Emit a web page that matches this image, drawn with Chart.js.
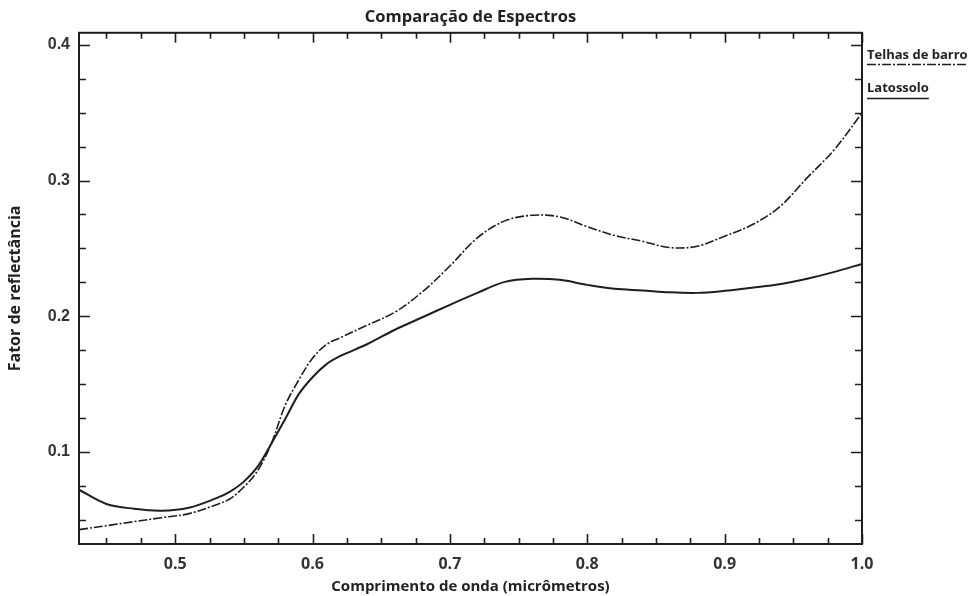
<!DOCTYPE html>
<html>
<head>
<meta charset="utf-8">
<script src="https://cdn.jsdelivr.net/npm/chart.js@4/dist/chart.umd.min.js"></script>
<style>
  html, body { margin: 0; padding: 0; background: #fff; }
  #wrap { width: 970px; height: 596px; }
</style>
</head>
<body>
<div id="wrap"><canvas id="c" width="970" height="596"></canvas></div>
<script>
// ---- data ----
const wavelengths = [0.43, 0.45, 0.47, 0.49, 0.51, 0.53, 0.54, 0.55, 0.56, 0.57, 0.58, 0.59, 0.60, 0.61, 0.62, 0.64, 0.66, 0.68, 0.70, 0.72, 0.74, 0.76, 0.78, 0.80, 0.82, 0.84, 0.86, 0.88, 0.90, 0.92, 0.94, 0.96, 0.98, 1.00];
const telhasDeBarro = [0.0426, 0.0455, 0.0485, 0.0514, 0.0544, 0.061, 0.0654, 0.074, 0.086, 0.106, 0.134, 0.153, 0.169, 0.179, 0.184, 0.1935, 0.203, 0.218, 0.237, 0.2578, 0.2703, 0.2744, 0.2732, 0.266, 0.2595, 0.2553, 0.2506, 0.2516, 0.259, 0.2674, 0.2806, 0.302, 0.323, 0.350];
const latossolo = [0.072, 0.0615, 0.058, 0.0566, 0.0588, 0.0658, 0.0706, 0.078, 0.089, 0.106, 0.124, 0.1425, 0.155, 0.1645, 0.1705, 0.1795, 0.190, 0.1992, 0.2084, 0.2172, 0.2253, 0.2276, 0.2268, 0.2231, 0.2202, 0.219, 0.2176, 0.2172, 0.2187, 0.221, 0.2235, 0.2276, 0.2327, 0.2386];
const seriesNames = ['Telhas de barro', 'Latossolo'];
const xTickLabels = [0.5, 0.6, 0.7, 0.8, 0.9, 1.0];
const yTickLabels = [0.1, 0.2, 0.3, 0.4];
const xMinorStep = 0.025;
const yMinorStep = 0.025;

const INK = '#1e1e1e';
const DASHDOT = [9, 2, 2, 2];

function pts(ys) { return wavelengths.map((w, i) => ({ x: w, y: ys[i] })); }

const frameTicks = {
  id: 'frameTicks',
  afterDraw(chart) {
    const { ctx, chartArea: a, scales: { x, y } } = chart;
    ctx.save();
    ctx.strokeStyle = INK;
    ctx.lineWidth = 1.6;
    ctx.setLineDash([]);
    const isMajor = v => Math.abs(v * 10 - Math.round(v * 10)) < 1e-6;
    for (let k = Math.ceil(x.min / xMinorStep); k * xMinorStep <= x.max + 1e-9; k++) {
      const v = k * xMinorStep;
      const px = Math.round(x.getPixelForValue(v)) + 0.5;
      const len = isMajor(v) ? 10 : 6;
      ctx.beginPath();
      ctx.moveTo(px, a.bottom); ctx.lineTo(px, a.bottom - len);
      ctx.moveTo(px, a.top); ctx.lineTo(px, a.top + len);
      ctx.stroke();
    }
    for (let k = Math.ceil(y.min / yMinorStep); k * yMinorStep <= y.max + 1e-9; k++) {
      const v = k * yMinorStep;
      const py = Math.round(y.getPixelForValue(v)) + 0.5;
      const len = isMajor(v) ? 11 : 7;
      ctx.beginPath();
      ctx.moveTo(a.left, py); ctx.lineTo(a.left + len, py);
      ctx.moveTo(a.right, py); ctx.lineTo(a.right - len, py);
      ctx.stroke();
    }
    ctx.lineWidth = 2;
    ctx.strokeRect(a.left, a.top, a.right - a.left, a.bottom - a.top);

    // legend at the right: name with a line sample underneath
    ctx.font = 'bold 13px "Open Sans"';
    ctx.fillStyle = '#222';
    ctx.textBaseline = 'alphabetic';
    ctx.textAlign = 'left';
    const lx = a.right + 5;
    const items = [
      { name: seriesNames[0], base: 59, lineY: 64, dash: DASHDOT },
      { name: seriesNames[1], base: 92, lineY: 98, dash: [] }
    ];
    items.forEach(it => {
      ctx.fillText(it.name, lx, it.base);
      const w = ctx.measureText(it.name).width;
      ctx.beginPath();
      ctx.setLineDash(it.dash);
      ctx.lineWidth = 1.3;
      ctx.moveTo(lx, it.lineY + 0.5);
      ctx.lineTo(lx + w, it.lineY + 0.5);
      ctx.stroke();
    });
    ctx.restore();
  }
};

new Chart(document.getElementById('c'), {
  type: 'line',
  data: {
    datasets: [
      {
        label: seriesNames[0],
        data: pts(telhasDeBarro),
        borderColor: INK,
        borderWidth: 1.6,
        borderDash: DASHDOT,
        pointRadius: 0,
        fill: false,
        tension: 0.35
      },
      {
        label: seriesNames[1],
        data: pts(latossolo),
        borderColor: INK,
        borderWidth: 2,
        pointRadius: 0,
        fill: false,
        tension: 0.35
      }
    ]
  },
  options: {
    responsive: false,
    animation: false,
    events: [],
    layout: { padding: { left: 0, right: 108, top: 0, bottom: 0 } },
    plugins: {
      legend: { display: false },
      tooltip: { enabled: false },
      title: {
        display: true,
        fullSize: false,
        text: 'Comparação de Espectros',
        color: '#222',
        font: { family: '"Open Sans"', size: 16.5, weight: 'bold' },
        padding: { top: 7, bottom: 6 }
      }
    },
    scales: {
      x: {
        type: 'linear',
        min: 0.43,
        max: 1.0,
        afterBuildTicks: s => { s.ticks = xTickLabels.map(v => ({ value: v })); },
        afterFit: s => { s.height = 52; },
        ticks: {
          callback: v => v.toFixed(1),
          color: '#333',
          font: { family: '"Open Sans"', size: 16, weight: 'bold' },
          padding: 11,
          maxRotation: 0
        },
        grid: { display: false, drawTicks: false },
        border: { display: false },
        title: {
          display: true,
          text: 'Comprimento de onda (micrômetros)',
          color: '#222',
          font: { family: '"Open Sans"', size: 15, weight: 'bold' },
          padding: { top: 2, bottom: 0 }
        }
      },
      y: {
        type: 'linear',
        min: 0.032,
        max: 0.409,
        afterBuildTicks: s => { s.ticks = yTickLabels.map(v => ({ value: v })); },
        afterFit: s => { s.width = 79; },
        ticks: {
          callback: v => v.toFixed(1),
          color: '#333',
          font: { family: '"Liberation Sans"', size: 16, weight: 'bold' },
          padding: 9
        },
        grid: { display: false, drawTicks: false },
        border: { display: false },
        title: {
          display: true,
          text: 'Fator de reflectância',
          color: '#222',
          font: { family: '"Open Sans"', size: 16, weight: 'bold' },
          padding: { top: 6, bottom: 4 }
        }
      }
    }
  },
  plugins: [frameTicks]
});
</script>
</body>
</html>
